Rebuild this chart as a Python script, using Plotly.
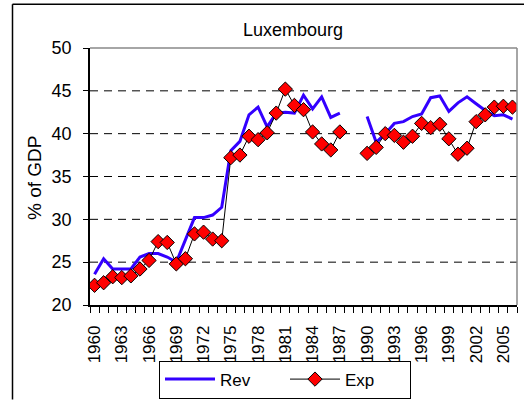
import plotly.graph_objects as go

years = list(range(1960, 2007))
rev = [23.6, 25.4, 24.2, 24.2, 24.2, 25.6, 26.0, 26.0, 25.6, 25.0,
       27.7, 30.2, 30.2, 30.5, 31.4, 38.0, 39.1, 42.2, 43.1, 40.8,
       42.4, 42.5, 42.4, 44.5, 42.9, 44.3, 41.9, 42.4, None, None,
       42.0, 39.0, 40.0, 41.2, 41.4, 42.0, 42.3, 44.2, 44.4, 42.6,
       43.6, 44.3, 43.5, 42.7, 42.1, 42.2, 41.7]
exp = [22.3, 22.6, 23.3, 23.2, 23.4, 24.2, 25.2, 27.4, 27.3, 24.8,
       25.4, 28.3, 28.5, 27.7, 27.5, 37.2, 37.5, 39.7, 39.3, 40.1,
       42.4, 45.2, 43.3, 42.8, 40.2, 38.8, 38.1, 40.2, None, None,
       37.7, 38.4, 40.0, 39.8, 39.0, 39.7, 41.2, 40.7, 41.1, 39.4,
       37.6, 38.3, 41.4, 42.2, 43.1, 43.2, 43.1]
tick_years = list(range(1960, 2006, 3))
y_ticks = [20, 25, 30, 35, 40, 45, 50]

FONT = "Liberation Sans, Arial, sans-serif"

fig = go.Figure()
fig.add_trace(go.Scatter(
    x=years, y=rev, name="Rev", mode="lines",
    line=dict(color="#3300FF", width=3), connectgaps=False))
fig.add_trace(go.Scatter(
    x=years, y=exp, name="Exp", mode="lines+markers",
    line=dict(color="black", width=1),
    marker=dict(symbol="diamond", size=11, color="#FF0000",
                line=dict(color="black", width=1)),
    connectgaps=False))

L, R, T, B = 90, 7, 48, 96
W, H = 524, 405
pw, ph = W - L - R, H - T - B

def px(x):
    return (x - L) / pw

def py(y):
    return (H - B - y) / ph

shapes = []
for v in [25, 30, 35, 40, 45]:
    shapes.append(dict(type="line", xref="paper", yref="y", x0=0, x1=1, y0=v, y1=v,
                       line=dict(color="black", width=1, dash="8px,6px"), layer="below"))
shapes.append(dict(type="line", xref="paper", yref="paper", x0=0, x1=1, y0=1, y1=1,
                   line=dict(color="#888888", width=1.5)))
shapes.append(dict(type="line", xref="paper", yref="paper", x0=1, x1=1, y0=0, y1=1,
                   line=dict(color="#888888", width=1.5)))
# outer chart border (left and top edges visible)
shapes.append(dict(type="line", xref="paper", yref="paper",
                   x0=px(12.5), x1=px(12.5), y0=py(405), y1=py(3.5),
                   line=dict(color="black", width=1.5)))
shapes.append(dict(type="line", xref="paper", yref="paper",
                   x0=px(12.5), x1=px(524), y0=py(3.5), y1=py(3.5),
                   line=dict(color="black", width=1.5)))

fig.update_layout(
    width=W, height=H,
    margin=dict(l=L, r=R, t=T, b=B),
    paper_bgcolor="white", plot_bgcolor="white",
    font=dict(family=FONT, color="black", size=17),
    showlegend=True,
    legend=dict(orientation="h", x=px(285), xanchor="center", y=py(404), yanchor="bottom",
                bordercolor="black", borderwidth=1, font=dict(size=17),
                itemwidth=50, entrywidth=60, tracegroupgap=0),
    shapes=shapes,
    annotations=[
        dict(text="Luxembourg", xref="paper", yref="paper", x=px(293), y=py(30),
             xanchor="center", yanchor="middle", showarrow=False, font=dict(size=18)),
        dict(text="% of GDP", xref="paper", yref="paper", x=px(35), y=py(180),
             xanchor="center", yanchor="middle", textangle=-90, showarrow=False,
             font=dict(size=19)),
    ],
)
fig.update_xaxes(
    range=[1959.5, 2006.5], showgrid=False, zeroline=False,
    showline=True, linecolor="black", linewidth=1.5,
    tickmode="array", tickvals=tick_years, ticktext=[str(y) for y in tick_years],
    tickangle=-90, ticks="", tickfont=dict(size=17),
    ticklabelstandoff=12,
    minor=dict(tickmode="linear", tick0=1959.5, dtick=1, ticks="outside",
               ticklen=6, tickcolor="black", tickwidth=1, showgrid=False),
)
fig.update_yaxes(
    range=[20, 50], showgrid=False, zeroline=False,
    showline=True, linecolor="black", linewidth=1.5,
    tickmode="array", tickvals=y_ticks,
    ticks="outside", ticklen=5, tickcolor="black", tickwidth=1,
    tickfont=dict(size=18), ticklabelstandoff=8,
)
fig.write_html("out.html", config={"displayModeBar": False},
               post_script="document.body.style.margin='0';")
